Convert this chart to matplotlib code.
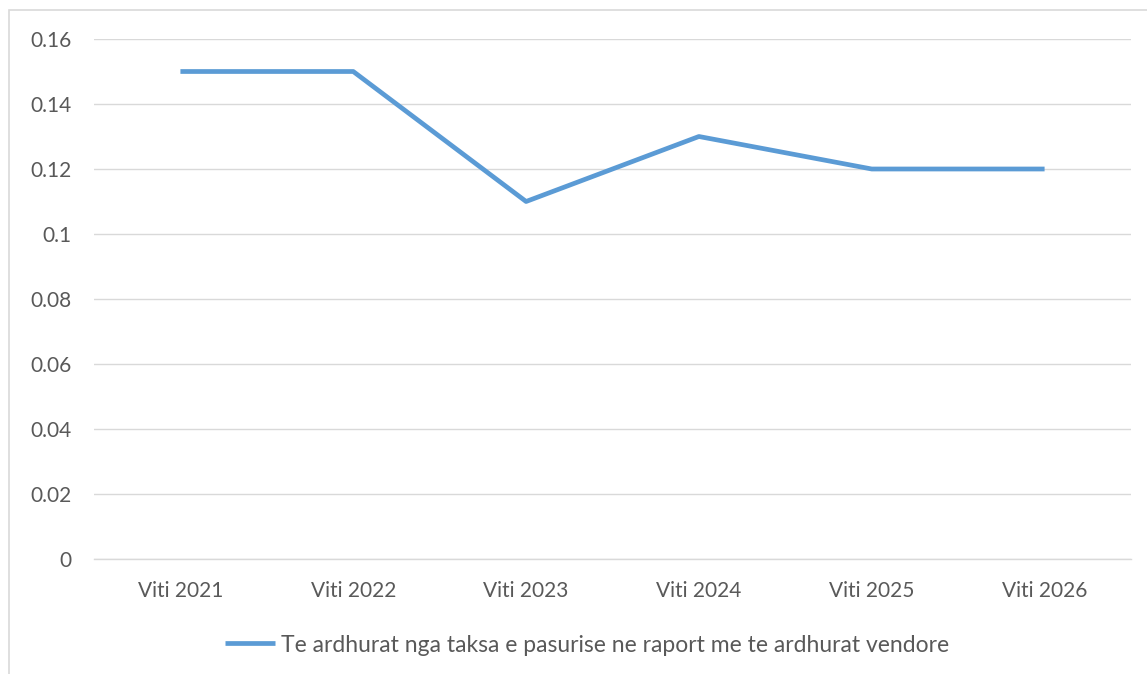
import matplotlib.pyplot as plt
from matplotlib.patches import Rectangle

# Data
years = ['Viti 2021', 'Viti 2022', 'Viti 2023', 'Viti 2024', 'Viti 2025', 'Viti 2026']
ratio = [0.15, 0.15, 0.11, 0.13, 0.12, 0.12]
series_name = 'Te ardhurat nga taksa e pasurise ne raport me te ardhurat vendore'
y_ticks = [0, 0.02, 0.04, 0.06, 0.08, 0.1, 0.12, 0.14, 0.16]
y_tick_labels = ['0', '0.02', '0.04', '0.06', '0.08', '0.1', '0.12', '0.14', '0.16']

plt.rcParams['font.family'] = ['Lato', 'DejaVu Sans']

W, H = 1147, 674
fig = plt.figure(figsize=(W / 100, H / 100), dpi=100)
fig.patch.set_facecolor('white')

# chart area border (runs off the right and bottom edges)
fig.patches.append(Rectangle((9 / W, -0.1), 1.2, 1 - 10 / H + 0.1,
                             transform=fig.transFigure, fill=False,
                             edgecolor='#D9D9D9', linewidth=1.2))

left, right, top, bottom = 94, 1131, 39, 559
ax = fig.add_axes([left / W, 1 - bottom / H, (right - left) / W, (bottom - top) / H])

x = list(range(len(years)))
line, = ax.plot(x, ratio, color='#5B9BD5', linewidth=3.4, solid_capstyle='butt',
                label=series_name, zorder=3)

ax.set_xlim(-0.5, len(years) - 0.5)
ax.set_ylim(0, 0.16)
ax.set_yticks(y_ticks)
ax.set_yticklabels(y_tick_labels)
ax.set_xticks(x)
ax.set_xticklabels(years)

ax.grid(axis='y', color='#D9D9D9', linewidth=1.0)
ax.set_axisbelow(True)
for side in ['top', 'right', 'left']:
    ax.spines[side].set_visible(False)
ax.spines['bottom'].set_color('#D9D9D9')
ax.spines['bottom'].set_linewidth(1.0)
ax.tick_params(axis='both', length=0, labelsize=15, colors='#595959')
ax.tick_params(axis='y', pad=16)
ax.tick_params(axis='x', pad=16)

fig.legend(handles=[line], loc='center', bbox_to_anchor=(587 / W, 1 - 645 / H),
           frameon=False, fontsize=16.5, labelcolor='#595959',
           handlelength=2.2, handletextpad=0.26)

fig.savefig('out.png', dpi=100)
